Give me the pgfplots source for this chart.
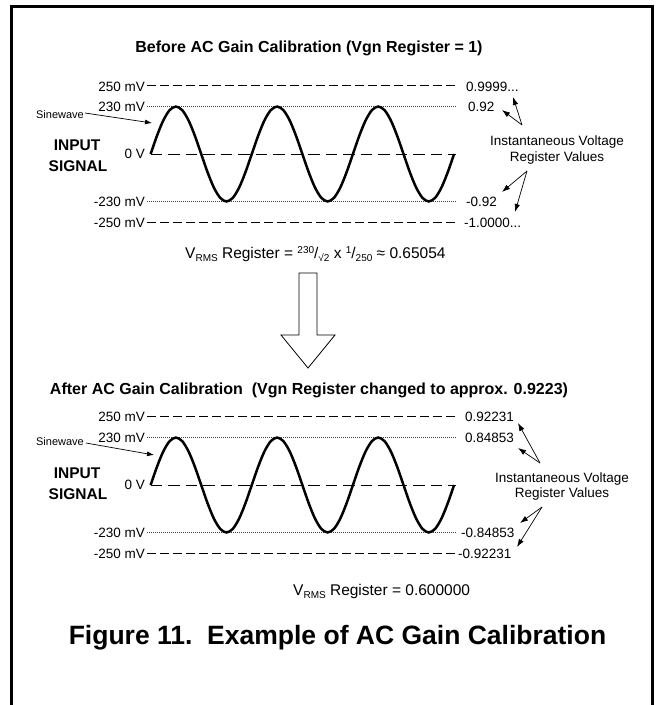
\documentclass[border=0pt]{standalone}
\usepackage{pgfplots}
\pgfplotsset{compat=1.18}
\usepackage{pgfplotstable}
\usepackage{fontspec}
\setmainfont{Liberation Sans}
\usetikzlibrary{arrows.meta}

\newcommand{\fs}[1]{\fontsize{#1bp}{#1bp}\selectfont}

% input sinewave, 3 cycles, amplitude 230 mV (x in cycles)
\pgfplotstableread{
x y
0 0
0.0625 88.02
0.125 162.63
0.1875 212.49
0.25 230
0.3125 212.49
0.375 162.63
0.4375 88.02
0.5 0
0.5625 -88.02
0.625 -162.63
0.6875 -212.49
0.75 -230
0.8125 -212.49
0.875 -162.63
0.9375 -88.02
1 0
1.0625 88.02
1.125 162.63
1.1875 212.49
1.25 230
1.3125 212.49
1.375 162.63
1.4375 88.02
1.5 0
1.5625 -88.02
1.625 -162.63
1.6875 -212.49
1.75 -230
1.8125 -212.49
1.875 -162.63
1.9375 -88.02
2 0
2.0625 88.02
2.125 162.63
2.1875 212.49
2.25 230
2.3125 212.49
2.375 162.63
2.4375 88.02
2.5 0
2.5625 -88.02
2.625 -162.63
2.6875 -212.49
2.75 -230
2.8125 -212.49
2.875 -162.63
2.9375 -88.02
3 0
}\sinedata

\pgfplotsset{
  panel/.style={scale only axis, width=308.5bp, height=137bp,
    xmin=-0.035, xmax=3.015, ymin=-332, ymax=332, hide axis, clip=false,
    anchor=south west},
  lim/.style={black, line width=0.9bp, dash pattern=on 8.5bp off 4.5bp},
  pk/.style={black!75, line width=0.7bp, dash pattern=on 1bp off 1bp},
  zer/.style={black, line width=0.9bp, dash pattern=on 11.5bp off 6bp},
  wave/.style={black, line width=2.5bp, smooth},
}

\begin{document}
\begin{tikzpicture}
\useasboundingbox (0bp,0bp) rectangle (662bp,-705bp);
\draw[line width=3bp] (11.5bp,-705bp) -- (11.5bp,-6.5bp) -- (652bp,-6.5bp) -- (652bp,-705bp);

% ---------- top panel ----------
\begin{axis}[panel, at={(147.1bp,-222.5bp)}]
\addplot[lim] coordinates {(-0.035,332) (3.015,332)};
\addplot[lim] coordinates {(-0.035,-332) (3.015,-332)};
\addplot[pk] coordinates {(-0.035,230) (3.015,230)};
\addplot[pk] coordinates {(-0.035,-230) (3.015,-230)};
\addplot[zer] coordinates {(0,0) (3.015,0)};
\addplot[wave] table[x=x,y=y] {\sinedata};
\end{axis}

\node[font=\fs{16}\bfseries] at (309bp,-48bp) {Before AC Gain Calibration (Vgn Register = 1)};
\begin{scope}[every node/.style={font=\fs{13.5}, inner sep=0pt}]
\node[anchor=east] at (145bp,-87bp) {250 mV};
\node[anchor=east] at (145bp,-106.5bp) {230 mV};
\node[anchor=east] at (145bp,-154bp) {0 V};
\node[anchor=east] at (145bp,-201.5bp) {-230 mV};
\node[anchor=east] at (145bp,-222.5bp) {-250 mV};
\node[anchor=west] at (466bp,-87bp) {0.9999...};
\node[anchor=west] at (468bp,-106.5bp) {0.92};
\node[anchor=west] at (466bp,-201.5bp) {-0.92};
\node[anchor=west] at (464bp,-222.5bp) {-1.0000...};
\node at (557bp,-142bp) {Instantaneous Voltage};
\node at (557bp,-158bp) {Register Values};
\end{scope}
\node[font=\fs{15.5}, inner sep=0pt, anchor=base west] at (185bp,-258bp) {V\raisebox{-3.5bp}{\fs{10}RMS} Register = \raisebox{4.5bp}{\fs{10}230}/\raisebox{-3bp}{\fs{10}√2} x \raisebox{4.5bp}{\fs{10}1}/\raisebox{-3bp}{\fs{10}250} ≈ 0.65054};
\node[font=\fs{11}, inner sep=0pt, anchor=east] at (84bp,-115bp) {Sinewave};
\node[font=\fs{15.5}\bfseries, inner sep=0pt] at (77bp,-145bp) {INPUT};
\node[font=\fs{15.5}\bfseries, inner sep=0pt] at (78bp,-166bp) {SIGNAL};
\draw[-{Latex[length=7bp,width=5bp]}, line width=0.7bp] (85bp,-113bp) -- (152bp,-123bp);
\begin{scope}[-{Latex[length=8bp,width=5.5bp]}, line width=0.7bp]
\draw (522bp,-125bp) -- (513bp,-97bp);
\draw (522bp,-125bp) -- (502bp,-110bp);
\draw (527bp,-171bp) -- (502bp,-192bp);
\draw (527bp,-171bp) -- (515bp,-212bp);
\end{scope}

% ---------- hollow arrow ----------
\draw[line width=0.8bp, fill=white] (299bp,-273bp) -- (317bp,-273bp) -- (317bp,-335bp) -- (335bp,-335bp) -- (308bp,-368bp) -- (281bp,-335bp) -- (299bp,-335bp) -- cycle;

% ---------- bottom panel ----------
\begin{axis}[panel, at={(147.1bp,-553.5bp)}]
\addplot[lim] coordinates {(-0.035,332) (3.015,332)};
\addplot[lim] coordinates {(-0.035,-332) (3.015,-332)};
\addplot[pk] coordinates {(-0.035,230) (3.015,230)};
\addplot[pk] coordinates {(-0.035,-230) (3.015,-230)};
\addplot[zer] coordinates {(0,0) (3.015,0)};
\addplot[wave] table[x=x,y=y] {\sinedata};
\end{axis}

\node[font=\fs{16}\bfseries] at (309bp,-390bp) {After AC Gain Calibration\ \ (Vgn Register changed to approx. 0.9223)};
\begin{scope}[every node/.style={font=\fs{13.5}, inner sep=0pt}]
\node[anchor=east] at (145bp,-416.5bp) {250 mV};
\node[anchor=east] at (145bp,-437.5bp) {230 mV};
\node[anchor=east] at (145bp,-485bp) {0 V};
\node[anchor=east] at (145bp,-532.5bp) {-230 mV};
\node[anchor=east] at (145bp,-553.5bp) {-250 mV};
\node[anchor=west] at (465bp,-416.5bp) {0.92231};
\node[anchor=west] at (465bp,-437.5bp) {0.84853};
\node[anchor=west] at (461bp,-532.5bp) {-0.84853};
\node[anchor=west] at (458bp,-553.5bp) {-0.92231};
\node at (562bp,-479bp) {Instantaneous Voltage};
\node at (562bp,-494bp) {Register Values};
\end{scope}
\node[font=\fs{15.5}, inner sep=0pt, anchor=base west] at (293bp,-595bp) {V\raisebox{-3.5bp}{\fs{10}RMS} Register = 0.600000};
\node[font=\fs{11}, inner sep=0pt, anchor=east] at (84bp,-442bp) {Sinewave};
\node[font=\fs{15.5}\bfseries, inner sep=0pt] at (77bp,-473bp) {INPUT};
\node[font=\fs{15.5}\bfseries, inner sep=0pt] at (78bp,-494bp) {SIGNAL};
\draw[-{Latex[length=7bp,width=5bp]}, line width=0.7bp] (86bp,-443bp) -- (154bp,-455bp);
\begin{scope}[-{Latex[length=8bp,width=5.5bp]}, line width=0.7bp]
\draw (540bp,-463bp) -- (518bp,-423bp);
\draw (540bp,-463bp) -- (518bp,-448bp);
\draw (542bp,-507bp) -- (520bp,-523bp);
\draw (542bp,-507bp) -- (517bp,-547bp);
\end{scope}

\node[font=\fs{26.5}\bfseries] at (337.5bp,-638bp) {Figure 11.\ \ Example of AC Gain Calibration};
\end{tikzpicture}
\end{document}
